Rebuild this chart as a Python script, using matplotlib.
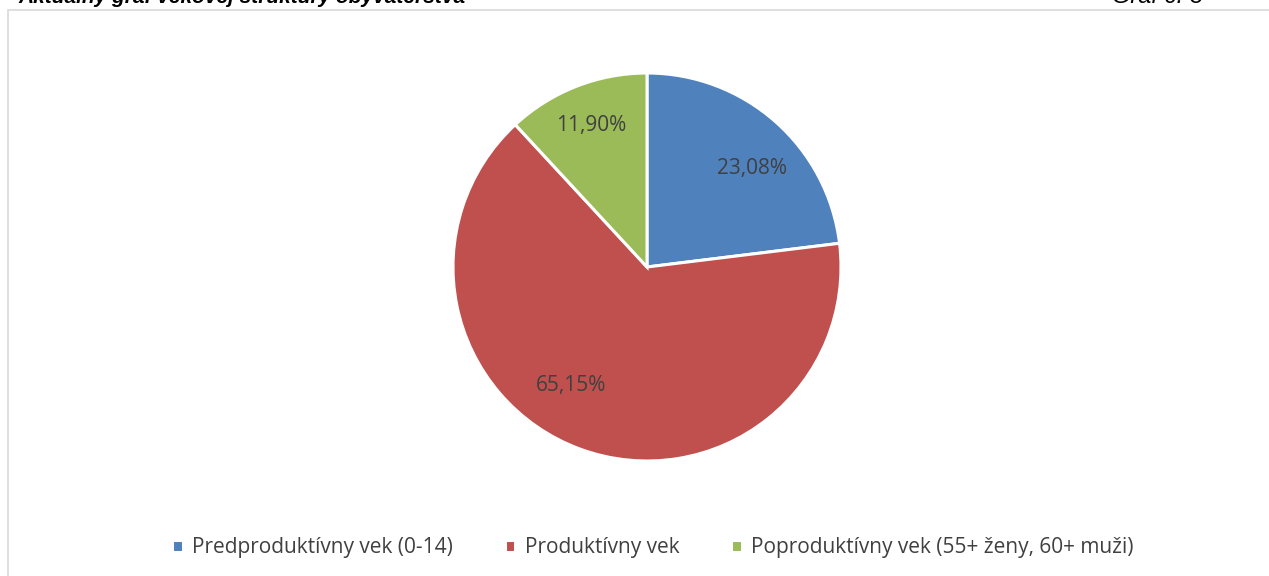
import matplotlib
matplotlib.use("Agg")
import matplotlib.pyplot as plt
from matplotlib.patches import Rectangle

plt.rcParams["font.family"] = ["Open Sans", "DejaVu Sans"]

categories = [
    "Predproduktívny vek (0-14)",
    "Produktívny vek",
    "Poproduktívny vek (55+ ženy, 60+ muži)",
]
shares = [23.08, 65.15, 11.90]
share_labels = ["23,08%", "65,15%", "11,90%"]
colors = ["#4F81BD", "#C0504D", "#9BBB59"]

# label positions as (x, y) in pie radius units, tuned to match the reference
label_pos = [(0.54, 0.51), (-0.39, -0.61), (-0.29, 0.73)]

W, H = 1269, 576
fig = plt.figure(figsize=(W / 100, H / 100), dpi=100)

# chart frame
fig.patches.append(Rectangle((8 / W, -0.01), 1.0, 1 - 10 / H + 0.01,
                             transform=fig.transFigure, fill=False,
                             edgecolor="#D9D9D9", linewidth=1.2))

# title rows, cut off at the top like the source page
fig.text(18 / W, 1 - 3 / H, "Aktuálny graf vekovej štruktúry obyvateľstva",
         fontsize=15, fontweight="bold", fontstyle="italic", va="baseline",
         ha="left", family=["Liberation Sans", "DejaVu Sans"])
fig.text(1203 / W, 1 - 3 / H, "Graf č. 3", fontsize=17, fontstyle="italic",
         va="baseline", ha="right", family=["Liberation Sans", "DejaVu Sans"])

# pie: centre (647, 267), radius 194 px
r = 194
cx, cy = 647, 267
ax = fig.add_axes([(cx - r) / W, 1 - (cy + r) / H, 2 * r / W, 2 * r / H])
wedges, _ = ax.pie(shares, colors=colors, startangle=90, counterclock=False,
                   wedgeprops=dict(edgecolor="white", linewidth=2.2))
for (x, y), txt in zip(label_pos, share_labels):
    ax.text(x, y, txt, ha="center", va="center", fontsize=15, color="#404040")
ax.set_xlim(-1, 1)
ax.set_ylim(-1, 1)
ax.set_aspect("equal")

fig.legend(wedges, categories, loc="center", bbox_to_anchor=(653 / W, 1 - 548 / H),
           ncol=3, frameon=False, fontsize=15, handlelength=0.5, handleheight=0.5,
           handletextpad=0.45, columnspacing=2.5, labelcolor="#404040")

fig.savefig("out.png", dpi=100)
